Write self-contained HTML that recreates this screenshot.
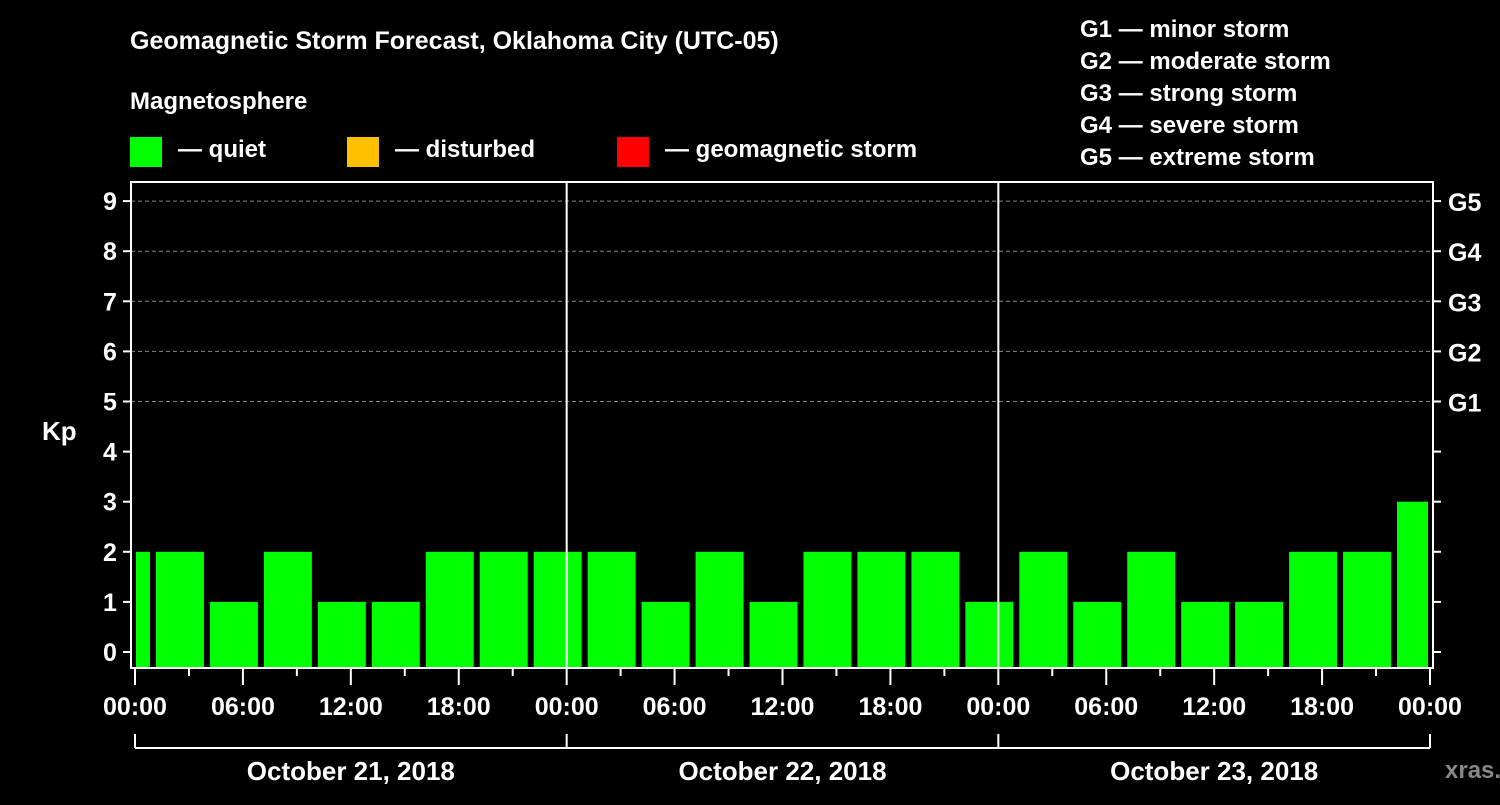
<!DOCTYPE html>
<html><head><meta charset="utf-8"><style>
body{margin:0;background:#000;width:1500px;height:800px;overflow:hidden}
svg text{font-family:"Liberation Sans",Arial,sans-serif;font-weight:bold;fill:#fff}
</style></head><body>
<svg id="c" width="1500" height="800" xmlns="http://www.w3.org/2000/svg">
<text x="130" y="49" font-size="25">Geomagnetic Storm Forecast, Oklahoma City (UTC-05)</text>
<text x="130" y="109" font-size="24">Magnetosphere</text>
<rect x="130" y="137" width="32" height="30" fill="#00ff00"/>
<text x="178" y="157" font-size="24">— quiet</text>
<rect x="347" y="137" width="32" height="30" fill="#ffc000"/>
<text x="395" y="157" font-size="24">— disturbed</text>
<rect x="617" y="137" width="32" height="30" fill="#ff0000"/>
<text x="665" y="157" font-size="24">— geomagnetic storm</text>
<g>
<text x="1080" y="37" font-size="24">G1 — minor storm</text>
<text x="1080" y="69" font-size="24">G2 — moderate storm</text>
<text x="1080" y="101" font-size="24">G3 — strong storm</text>
<text x="1080" y="133" font-size="24">G4 — severe storm</text>
<text x="1080" y="165" font-size="24">G5 — extreme storm</text>
</g>
<text x="42" y="440" font-size="26">Kp</text>
<text x="1445" y="778" font-size="24" fill="#888" style="fill:#888">xras.ru</text>
<g id="plot"></g>
</svg>
<script>
const kpValues=[2,2,1,2,1,1,2,2,2,2,1,2,1,2,2,2,1,2,1,2,1,1,2,2,3];
const slotStartHours=[-2,1,4,7,10,13,16,19,22,25,28,31,34,37,40,43,46,49,52,55,58,61,64,67,70];
const yTicks=[0,1,2,3,4,5,6,7,8,9];
const gLabels=["G1","G2","G3","G4","G5"];
const gLevels=[5,6,7,8,9];
const xTickLabels=["00:00","06:00","12:00","18:00","00:00","06:00","12:00","18:00","00:00","06:00","12:00","18:00","00:00"];
const dayLabels=["October 21, 2018","October 22, 2018","October 23, 2018"];
const NS="http://www.w3.org/2000/svg";
const X=h=>135+h*(1295/72);
const Y=v=>652-v*50.1;
const L=182,B=668,T=182;
const g=document.getElementById('plot');
function mk(t,a){const e=document.createElementNS(NS,t);for(const k in a)e.setAttribute(k,a[k]);g.appendChild(e);return e;}
// grid
gLevels.forEach((v,i)=>{
 const e=mk('line',{x1:131,x2:1433,y1:Y(v),y2:Y(v),stroke:'#888','stroke-dasharray':'4,3','stroke-width':1});
 
 
 const t=mk('text',{x:1448,y:Y(v)+10,'font-size':25});t.textContent=gLabels[i];
 
 
});
// bars
kpValues.forEach((v,i)=>{
 const h=slotStartHours[i];
 let x0=Math.max(X(h)+3,X(0)+1), x1=Math.min(X(h+3)-3,X(72)-2);
 const r=mk('rect',{x:x0,y:Y(v),width:x1-x0,height:B-Y(v),fill:'#00ff00'});
 
 
});
// day separators
[24,48].forEach(h=>{const e=mk('line',{x1:X(h),x2:X(h),y1:T,y2:B,stroke:'#fff','stroke-width':2});
 
 });
// frame
const f=mk('rect',{x:131,y:T,width:1302,height:B-T,fill:'none',stroke:'#fff','stroke-width':2});


// y ticks
yTicks.forEach(v=>{
 mk('line',{x1:123,x2:131,y1:Y(v),y2:Y(v),stroke:'#fff','stroke-width':2});
 mk('line',{x1:1433,x2:1441,y1:Y(v),y2:Y(v),stroke:'#fff','stroke-width':2});
 const t=mk('text',{x:110,y:Y(v)+9,'font-size':25,'text-anchor':'middle'});t.textContent=v;
 
 
});
// x ticks
for(let h=0;h<=72;h+=3){const maj=h%6==0;
 mk('line',{x1:X(h),x2:X(h),y1:B,y2:B+(maj?17:8),stroke:'#fff','stroke-width':2});}
xTickLabels.forEach((s,i)=>{const t=mk('text',{x:X(i*6),y:715,'font-size':25,'text-anchor':'middle'});t.textContent=s;
 
 });
// date bracket
mk('line',{x1:X(0),x2:X(72),y1:748,y2:748,stroke:'#fff','stroke-width':2});
[0,24,48,72].forEach(h=>mk('line',{x1:X(h),x2:X(h),y1:734,y2:748,stroke:'#fff','stroke-width':2}));
dayLabels.forEach((s,i)=>{const t=mk('text',{x:X(i*24+12),y:780,'font-size':26,'text-anchor':'middle'});t.textContent=s;
 
 });
</script>
</body></html>
